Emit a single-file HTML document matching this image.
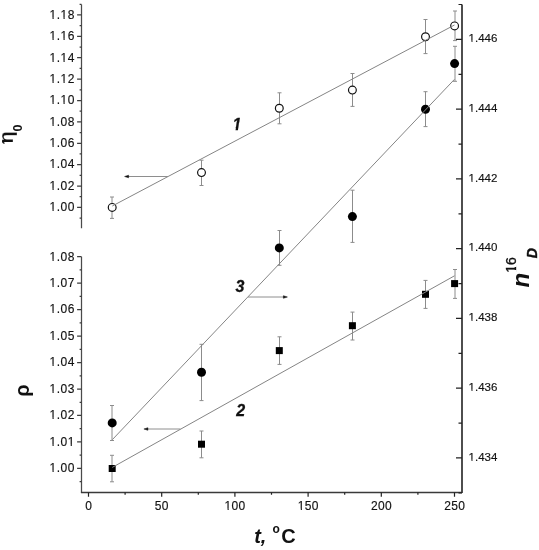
<!DOCTYPE html>
<html><head><meta charset="utf-8"><style>
html,body{margin:0;padding:0;background:#fff;}
body{width:539px;height:550px;overflow:hidden;}
svg{display:block;will-change:transform;}
text{font-family:"Liberation Sans",sans-serif;fill:#111;}
.tl{font-size:12px;fill:#111;stroke:#111;stroke-width:0.15px;}
.ll{letter-spacing:0.5px;}
.cl{font-size:16px;font-weight:bold;font-style:italic;stroke:#111;stroke-width:0.3px;}
.at{font-size:20px;font-weight:bold;}
.sub{font-size:13px;}
.sup{font-size:12px;}
.sup2{font-size:14px;font-style:normal;font-weight:normal;stroke:#111;stroke-width:0.35px;}
.sub2{font-size:14px;font-style:italic;stroke:#111;stroke-width:0.4px;}
</style></head><body>
<svg width="539" height="550" viewBox="0 0 539 550">
<rect width="539" height="550" fill="#fff"/>
<path d="M81.5 4.4V228.3M81.5 256.7V492.5" stroke="#4a4a4a" stroke-width="1.25" fill="none"/>
<path d="M80.9 492.5H462.0" stroke="#3a3a3a" stroke-width="1.35" fill="none"/>
<path d="M462.0 493.1V4.4" stroke="#3a3a3a" stroke-width="1.8" fill="none"/>
<text x="74.9" y="211.2" class="tl ll" text-anchor="end">1.00</text>
<text x="74.9" y="189.82" class="tl ll" text-anchor="end">1.02</text>
<text x="74.9" y="168.44" class="tl ll" text-anchor="end">1.04</text>
<text x="74.9" y="147.06" class="tl ll" text-anchor="end">1.06</text>
<text x="74.9" y="125.68" class="tl ll" text-anchor="end">1.08</text>
<text x="74.9" y="104.3" class="tl ll" text-anchor="end">1.10</text>
<text x="74.9" y="82.92" class="tl ll" text-anchor="end">1.12</text>
<text x="74.9" y="61.54" class="tl ll" text-anchor="end">1.14</text>
<text x="74.9" y="40.16" class="tl ll" text-anchor="end">1.16</text>
<text x="74.9" y="18.78" class="tl ll" text-anchor="end">1.18</text>
<text x="74.9" y="472.2" class="tl ll" text-anchor="end">1.00</text>
<text x="74.9" y="445.74" class="tl ll" text-anchor="end">1.01</text>
<text x="74.9" y="419.28" class="tl ll" text-anchor="end">1.02</text>
<text x="74.9" y="392.82" class="tl ll" text-anchor="end">1.03</text>
<text x="74.9" y="366.36" class="tl ll" text-anchor="end">1.04</text>
<text x="74.9" y="339.9" class="tl ll" text-anchor="end">1.05</text>
<text x="74.9" y="313.44" class="tl ll" text-anchor="end">1.06</text>
<text x="74.9" y="286.98" class="tl ll" text-anchor="end">1.07</text>
<text x="74.9" y="260.52" class="tl ll" text-anchor="end">1.08</text>
<text x="468.6" y="460.76" class="tl" style="font-size:11.5px">1.434</text>
<text x="468.6" y="391" class="tl" style="font-size:11.5px">1.436</text>
<text x="468.6" y="321.24" class="tl" style="font-size:11.5px">1.438</text>
<text x="468.6" y="251.48" class="tl" style="font-size:11.5px">1.440</text>
<text x="468.6" y="181.72" class="tl" style="font-size:11.5px">1.442</text>
<text x="468.6" y="111.96" class="tl" style="font-size:11.5px">1.444</text>
<text x="468.6" y="42.2" class="tl" style="font-size:11.5px">1.446</text>
<text x="88.65" y="509.6" class="tl" text-anchor="middle" style="letter-spacing:0.3px">0</text>
<text x="161.85" y="509.6" class="tl" text-anchor="middle" style="letter-spacing:0.3px">50</text>
<text x="235.05" y="509.6" class="tl" text-anchor="middle" style="letter-spacing:0.3px">100</text>
<text x="308.25" y="509.6" class="tl" text-anchor="middle" style="letter-spacing:0.3px">150</text>
<text x="381.45" y="509.6" class="tl" text-anchor="middle" style="letter-spacing:0.3px">200</text>
<text x="454.65" y="509.6" class="tl" text-anchor="middle" style="letter-spacing:0.3px">250</text>
<path d="M77.1 207.4H81.5 M77.1 186.02H81.5 M77.1 164.64H81.5 M77.1 143.26H81.5 M77.1 121.88H81.5 M77.1 100.5H81.5 M77.1 79.12H81.5 M77.1 57.74H81.5 M77.1 36.36H81.5 M77.1 14.98H81.5 M79.6 218.09H81.5 M79.6 196.71H81.5 M79.6 175.33H81.5 M79.6 153.95H81.5 M79.6 132.57H81.5 M79.6 111.19H81.5 M79.6 89.81H81.5 M79.6 68.43H81.5 M79.6 47.05H81.5 M79.6 25.67H81.5 M79.6 4.29H81.5 M77.1 468.4H81.5 M77.1 441.94H81.5 M77.1 415.48H81.5 M77.1 389.02H81.5 M77.1 362.56H81.5 M77.1 336.1H81.5 M77.1 309.64H81.5 M77.1 283.18H81.5 M77.1 256.72H81.5 M79.6 481.63H81.5 M79.6 455.17H81.5 M79.6 428.71H81.5 M79.6 402.25H81.5 M79.6 375.79H81.5 M79.6 349.33H81.5 M79.6 322.87H81.5 M79.6 296.41H81.5 M79.6 269.95H81.5" stroke="#3c3c3c" stroke-width="1.25" fill="none"/>
<path d="M456.0 457.96H462.0 M456.0 388.2H462.0 M456.0 318.44H462.0 M456.0 248.68H462.0 M456.0 178.92H462.0 M456.0 109.16H462.0 M456.0 39.4H462.0 M458.5 492.84H462.0 M458.5 423.08H462.0 M458.5 353.32H462.0 M458.5 283.56H462.0 M458.5 213.8H462.0 M458.5 144.04H462.0 M458.5 74.28H462.0 M458.5 4.52H462.0 M88.5 492.5V496.8 M161.7 492.5V496.8 M234.9 492.5V496.8 M308.1 492.5V496.8 M381.3 492.5V496.8 M454.5 492.5V496.8 M125.1 492.5V494.8 M198.3 492.5V494.8 M271.5 492.5V494.8 M344.7 492.5V494.8 M417.9 492.5V494.8" stroke="#222" stroke-width="1.2" fill="none"/>
<path d="M128 176.5H167.9M147.5 429H180.4M248 297H284" stroke="#8e8e8e" stroke-width="1"/>
<path d="M124.6 176.5L128.6 175.2V177.8Z M143.9 429L147.9 427.7V430.3Z M287.4 297L283.4 295.7V298.3Z" fill="#111" stroke="#111" stroke-width="0.5" stroke-linejoin="round"/>
<path d="M112 197V218.4M110 197H114M110 218.4H114M201.5 160.2V185.5M199.5 160.2H203.5M199.5 185.5H203.5M279.5 92.8V123.8M277.5 92.8H281.5M277.5 123.8H281.5M352.5 73.5V106.4M350.5 73.5H354.5M350.5 106.4H354.5M425.5 19.5V53.6M423.5 19.5H427.5M423.5 53.6H427.5M455 11V40.6M453 11H457M453 40.6H457M112 455.3V481.8M110 455.3H114M110 481.8H114M201.5 431V457.8M199.5 431H203.5M199.5 457.8H203.5M279.5 336.8V364.4M277.5 336.8H281.5M277.5 364.4H281.5M352.5 312.1V340M350.5 312.1H354.5M350.5 340H354.5M425.5 280.4V308.4M423.5 280.4H427.5M423.5 308.4H427.5M455 269.5V298.4M453 269.5H457M453 298.4H457M112 405.5V440.5M110 405.5H114M110 440.5H114M201.5 344.3V400.6M199.5 344.3H203.5M199.5 400.6H203.5M279.5 230.5V265.3M277.5 230.5H281.5M277.5 265.3H281.5M352.5 190.2V242.4M350.5 190.2H354.5M350.5 242.4H354.5M425.5 91.7V126.6M423.5 91.7H427.5M423.5 126.6H427.5M455 46.3V81.3M453 46.3H457M453 81.3H457" stroke="#8c8c8c" stroke-width="1" fill="none"/>
<circle cx="112.2" cy="207.4" r="3.9" fill="#fff" stroke="#111" stroke-width="1.2"/>
<circle cx="201.5" cy="172.6" r="3.9" fill="#fff" stroke="#111" stroke-width="1.2"/>
<circle cx="279.3" cy="108.3" r="3.9" fill="#fff" stroke="#111" stroke-width="1.2"/>
<circle cx="352.4" cy="90.1" r="3.9" fill="#fff" stroke="#111" stroke-width="1.2"/>
<circle cx="425.5" cy="36.7" r="3.9" fill="#fff" stroke="#111" stroke-width="1.2"/>
<circle cx="454.6" cy="25.9" r="3.9" fill="#fff" stroke="#111" stroke-width="1.2"/>
<circle cx="112.2" cy="422.9" r="4.5" fill="#000"/>
<circle cx="201.5" cy="372.3" r="4.5" fill="#000"/>
<circle cx="279.3" cy="247.9" r="4.5" fill="#000"/>
<circle cx="352.4" cy="216.6" r="4.5" fill="#000"/>
<circle cx="425.5" cy="109.2" r="4.5" fill="#000"/>
<circle cx="454.6" cy="63.6" r="4.5" fill="#000"/>
<rect x="108.7" y="465" width="7" height="7" fill="#000"/>
<rect x="198" y="440.7" width="7" height="7" fill="#000"/>
<rect x="275.8" y="347.1" width="7" height="7" fill="#000"/>
<rect x="348.9" y="322.2" width="7" height="7" fill="#000"/>
<rect x="422" y="290.8" width="7" height="7" fill="#000"/>
<rect x="451.1" y="280.1" width="7" height="7" fill="#000"/>
<path d="M112.3 206L454.5 25M112.3 439.7L454.5 79.3M112.3 467.4L454.5 275.8" stroke="#858585" stroke-width="1" fill="none"/>
<path d="M49.45 209.85H52.54V211.2H49.45ZM53.64 209.85H56.23V211.2H53.64ZM49.45 188.85H52.54V190.2H49.45ZM53.64 188.85H56.23V190.2H53.64ZM49.45 166.85H52.54V168.2H49.45ZM53.64 166.85H56.23V168.2H53.64ZM49.45 145.85H52.54V147.2H49.45ZM53.64 145.85H56.23V147.2H53.64ZM49.45 124.85H52.54V126.2H49.45ZM53.64 124.85H56.23V126.2H53.64ZM49.45 102.85H52.54V104.2H49.45ZM53.64 102.85H56.23V104.2H53.64ZM60.45 102.85H63.54V104.2H60.45ZM64.64 102.85H67.23V104.2H64.64ZM49.45 81.85H52.54V83.2H49.45ZM53.64 81.85H56.23V83.2H53.64ZM60.45 81.85H63.54V83.2H60.45ZM64.64 81.85H67.23V83.2H64.64ZM49.45 60.85H52.54V62.2H49.45ZM53.64 60.85H56.23V62.2H53.64ZM60.45 60.85H63.54V62.2H60.45ZM64.64 60.85H67.23V62.2H64.64ZM49.45 38.85H52.54V40.2H49.45ZM53.64 38.85H56.23V40.2H53.64ZM60.45 38.85H63.54V40.2H60.45ZM64.64 38.85H67.23V40.2H64.64ZM49.45 17.85H52.54V19.2H49.45ZM53.64 17.85H56.23V19.2H53.64ZM60.45 17.85H63.54V19.2H60.45ZM64.64 17.85H67.23V19.2H64.64ZM49.45 470.85H52.54V472.2H49.45ZM53.64 470.85H56.23V472.2H53.64ZM49.45 444.85H52.54V446.2H49.45ZM53.64 444.85H56.23V446.2H53.64ZM67.63 444.85H70.71V446.2H67.63ZM71.81 444.85H74.4V446.2H71.81ZM49.45 417.85H52.54V419.2H49.45ZM53.64 417.85H56.23V419.2H53.64ZM49.45 391.85H52.54V393.2H49.45ZM53.64 391.85H56.23V393.2H53.64ZM49.45 364.85H52.54V366.2H49.45ZM53.64 364.85H56.23V366.2H53.64ZM49.45 338.85H52.54V340.2H49.45ZM53.64 338.85H56.23V340.2H53.64ZM49.45 311.85H52.54V313.2H49.45ZM53.64 311.85H56.23V313.2H53.64ZM49.45 285.85H52.54V287.2H49.45ZM53.64 285.85H56.23V287.2H53.64ZM49.45 259.85H52.54V261.2H49.45ZM53.64 259.85H56.23V261.2H53.64ZM468.48 459.85H471.47V461.2H468.48ZM472.53 459.85H475.03V461.2H472.53ZM468.48 389.85H471.47V391.2H468.48ZM472.53 389.85H475.03V391.2H472.53ZM468.48 319.85H471.47V321.2H468.48ZM472.53 319.85H475.03V321.2H472.53ZM468.48 249.85H471.47V251.2H468.48ZM472.53 249.85H475.03V251.2H472.53ZM468.48 180.85H471.47V182.2H468.48ZM472.53 180.85H475.03V182.2H472.53ZM468.48 110.85H471.47V112.2H468.48ZM472.53 110.85H475.03V112.2H472.53ZM468.48 40.85H471.47V42.2H468.48ZM472.53 40.85H475.03V42.2H472.53ZM224.5 508.85H227.59V510.2H224.5ZM228.69 508.85H231.28V510.2H228.69ZM297.7 508.85H300.79V510.2H297.7ZM301.89 508.85H304.48V510.2H301.89Z" fill="#fff"/>
<text x="232.6" y="129.8" class="cl">1</text>
<text x="235.6" y="291.8" class="cl">3</text>
<text x="236.3" y="415.5" class="cl">2</text>
<text transform="translate(12.8 143.6) rotate(-90)" class="at" stroke="#fff" stroke-width="0.25">η</text><text transform="translate(22 131.5) rotate(-90)" font-size="12.5" font-weight="bold">0</text>
<path d="M3.8 140.4C2.3 141 2.4 142.9 4.5 143.4" stroke="#111" stroke-width="1.3" fill="none"/>
<text transform="translate(28.7 396.8) rotate(-90) scale(1 1.03)" class="at">ρ</text>
<text x="254.2" y="543" class="at" font-style="italic">t,</text><text x="272.6" y="533.2" class="at sup">o</text><text x="281.2" y="543" class="at">C</text>
<text transform="translate(529.3 287.5) rotate(-90)" class="at"><tspan font-style="italic" font-size="24">n</tspan><tspan class="sup2" dy="-13.5">16</tspan><tspan class="sub2" dx="-1" dy="21.5">D</tspan></text>
<path d="M231.7 127.95H235.85L235.45 131H231.7Z M238.25 127.95H242V131H237.85Z M513.95 264.9H516.6V266.95H513.95Z M513.95 270H516.6V272.1H513.95Z" fill="#fff"/>
</svg>
</body></html>
